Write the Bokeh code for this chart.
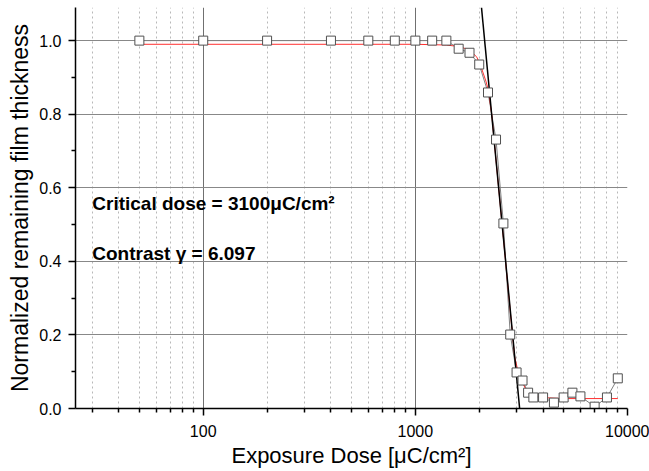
from bokeh.plotting import figure
from bokeh.models import Range1d, FixedTicker, PrintfTickFormatter, Label
from bokeh.embed import file_html
from bokeh.resources import INLINE

# measured data (exposure dose in uC/cm^2, normalized remaining thickness)
dose = [50, 100, 200, 400, 600, 800, 1000, 1200, 1400, 1600, 1800, 2000, 2200,
        2400, 2600, 2800, 3000, 3200, 3400, 3600, 4000, 4500, 5000, 5500, 6000,
        7000, 8000, 9000]
thickness = [1.0, 1.0, 1.0, 1.0, 1.0, 1.0, 1.0, 1.0, 1.0, 0.978, 0.967, 0.935,
             0.859, 0.731, 0.503, 0.201, 0.098, 0.076, 0.043, 0.030, 0.030,
             0.016, 0.030, 0.043, 0.033, 0.005, 0.030, 0.082]

# fitted curve
fit_dose = [50, 1000, 1400, 1600, 1800, 1950, 2050, 2150, 2210, 2290, 2870,
            2940, 3050, 3160, 3300, 3480, 3800, 4200, 5000, 9000]
fit_thickness = [0.990, 0.990, 0.988, 0.984, 0.975, 0.955, 0.925, 0.890, 0.865,
                 0.800, 0.200, 0.140, 0.100, 0.076, 0.055, 0.041, 0.032, 0.029,
                 0.027, 0.027]

# tangent line used for critical dose / contrast
tangent_dose = [2050, 3185]
tangent_thickness = [1.09, -0.07]

x_major = [100, 1000, 10000]
x_minor = [30, 40, 50, 60, 70, 80, 90, 200, 300, 400, 500, 600, 700, 800, 900,
           2000, 3000, 4000, 5000, 6000, 7000, 8000, 9000]
y_major = [0.0, 0.2, 0.4, 0.6, 0.8, 1.0]
y_minor = [0.1, 0.3, 0.5, 0.7, 0.9]

label_critical = "Critical dose = 3100\u03bcC/cm\u00b2"
label_contrast = "Contrast \u03b3 = 6.097"
x_title = "Exposure Dose [\u03bcC/cm\u00b2]"
y_title = "Normalized remaining film thickness"

FONT = "Liberation Sans"

p = figure(frame_width=552, frame_height=401, x_axis_type="log",
           x_range=Range1d(25, 10000), y_range=Range1d(0, 1.09),
           output_backend="svg", toolbar_location=None,
           min_border_left=75, min_border_right=22, min_border_top=7,
           min_border_bottom=63)
p.outline_line_color = None
p.background_fill_color = "white"
p.border_fill_color = "white"

# grids
p.xgrid.ticker = FixedTicker(ticks=[100, 1000], minor_ticks=x_minor)
p.xgrid.grid_line_color = "#707070"
p.xgrid.grid_line_width = 1
p.xgrid.minor_grid_line_color = "#b8b8b8"
p.xgrid.minor_grid_line_dash = "2 3"
p.xgrid.minor_grid_line_width = 1
p.ygrid.ticker = FixedTicker(ticks=[0.2, 0.4, 0.6, 0.8, 1.0])
p.ygrid.grid_line_color = "#888888"
p.ygrid.grid_line_width = 1

# axes
for ax in (p.xaxis[0], p.yaxis[0]):
    ax.axis_line_color = "black"
    ax.axis_line_width = 1.5
    ax.major_tick_line_color = "black"
    ax.minor_tick_line_color = "black"
    ax.major_tick_line_width = 1.5
    ax.minor_tick_line_width = 1.5
    ax.major_tick_in = 0
    ax.minor_tick_in = 0
    ax.major_tick_out = 7
    ax.minor_tick_out = 4
    ax.major_label_text_font = FONT
    ax.major_label_text_font_size = "16px"
    ax.major_label_text_color = "black"
    ax.axis_label_text_font = FONT
    ax.axis_label_text_font_style = "normal"
    ax.axis_label_text_font_size = "23px"
    ax.axis_label_text_color = "black"

p.xaxis.ticker = FixedTicker(ticks=x_major, minor_ticks=x_minor)
p.xaxis.formatter = PrintfTickFormatter(format="%d")
p.xaxis.major_label_standoff = 9
p.xaxis.axis_label = x_title
p.xaxis.axis_label_text_font_size = "22px"
p.xaxis.axis_label_standoff = 3

p.yaxis.ticker = FixedTicker(ticks=y_major, minor_ticks=y_minor)
p.yaxis.formatter = PrintfTickFormatter(format="%.1f")
p.yaxis.axis_label = y_title
p.yaxis.major_label_standoff = 7
p.yaxis.axis_label_standoff = 3

# data
p.line(dose, thickness, line_color="#808080", line_width=1)
p.line(fit_dose, fit_thickness, line_color="#ff3030", line_width=1)
p.line(tangent_dose, tangent_thickness, line_color="black", line_width=1.5)
p.scatter(dose, thickness, marker="square", size=9, fill_color="white",
          line_color="#505050", line_width=1)

# annotations
p.add_layout(Label(x=30, y=0.557, text=label_critical, text_font=FONT,
                   text_font_size="19px", text_font_style="bold",
                   text_color="black", text_baseline="alphabetic"))
p.add_layout(Label(x=30, y=0.421, text=label_contrast, text_font=FONT,
                   text_font_size="19px", text_font_style="bold",
                   text_color="black", text_baseline="alphabetic"))

open("out.html", "w").write(file_html(p, INLINE))
